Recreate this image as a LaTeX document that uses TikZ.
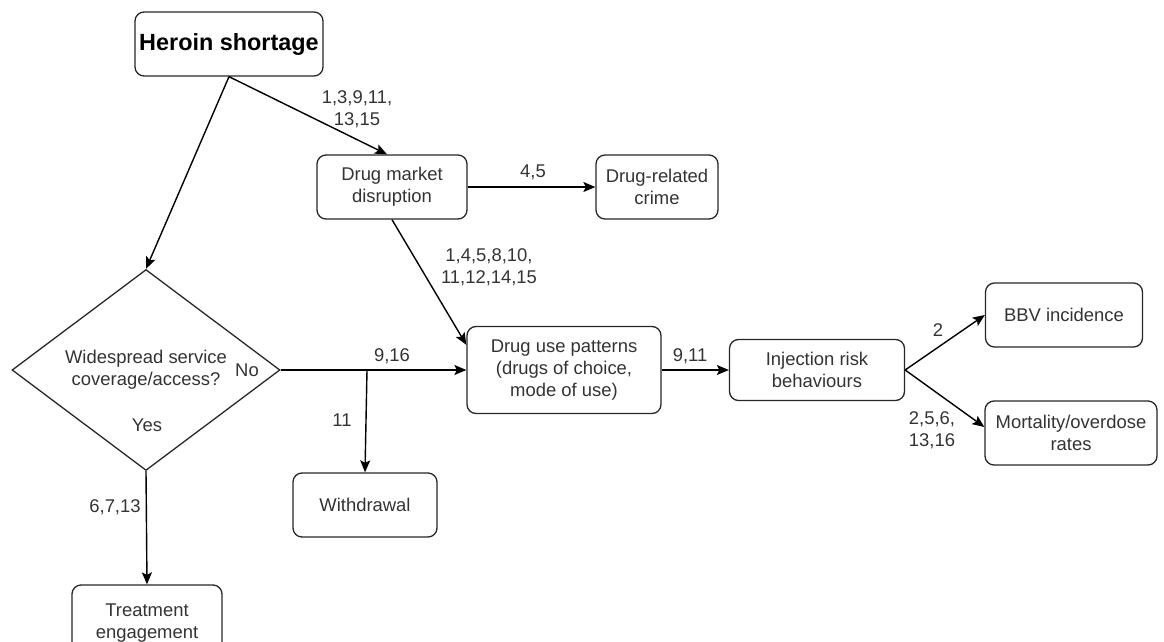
\documentclass[tikz,border=0pt]{standalone}
\usepackage{fontspec}
\setmainfont{Liberation Sans}
\usepackage{tikz}
\usetikzlibrary{arrows.meta,shapes.geometric}

\tikzset{
  box/.style={draw=black!85,line width=1.3bp,rounded corners=9bp,align=center,
    text=black!80,inner sep=0pt,font=\fontsize{18.5}{22}\selectfont},
  decision/.style={draw=black!85,line width=1.3bp,diamond,align=center,inner sep=0pt,
    text=black!80,font=\fontsize{18.5}{22}\selectfont},
  lbl/.style={align=center,inner sep=0pt,text=black!80,font=\fontsize{18.5}{22}\selectfont},
  arr/.style={-{Stealth[length=12bp,width=10bp,inset=2.5bp]},line width=1.4bp,black}
}

\begin{document}
\begin{tikzpicture}
\useasboundingbox (0bp,0bp) rectangle (1164bp,-642bp);

\node (heroin) at (229bp,-44bp)[box,minimum width=188bp,minimum height=64bp,font=\fontsize{23.5}{28}\selectfont\bfseries,text=black] {Heroin shortage};
\node (market) at (392bp,-187bp)[box,minimum width=150bp,minimum height=64bp] {Drug market\\disruption};
\node (crime) at (657bp,-187bp)[box,minimum width=122bp,minimum height=64bp] {Drug-related\\crime};
\node (access) at (146bp,-370bp)[decision,minimum width=268bp,minimum height=172bp] {Widespread service\\coverage/access?};
\node (use) at (564bp,-370bp)[box,minimum width=194bp,minimum height=87bp] {Drug use patterns\\(drugs of choice,\\mode of use)};
\node (inject) at (817bp,-370bp)[box,minimum width=175bp,minimum height=61bp] {Injection risk\\behaviours};
\node (bbv) at (1064bp,-315bp)[box,minimum width=157bp,minimum height=64bp] {BBV incidence};
\node (mort) at (1071bp,-433bp)[box,minimum width=172bp,minimum height=64bp] {Mortality/overdose\\rates};
\node (withdraw) at (365bp,-505bp)[box,minimum width=144bp,minimum height=64bp] {Withdrawal};
\node (treat) at (147bp,-623bp)[box,minimum width=150bp,minimum height=76bp] {Treatment\\engagement};

\node (no) at (247bp,-370bp)[lbl] {No};
\node (yes) at (147bp,-425bp)[lbl] {Yes};
\coordinate (split) at (367bp,-370bp);

\draw [arr] (heroin.south) -- ([xshift=-5bp]market.north);
\draw [arr] (heroin.south) -- (access.north);
\draw [arr] (market.east) -- (crime.west);
\draw [arr] (market.south) -- ([yshift=-19bp]use.north west);
\draw [arr] (access.east) -- (use.west);
\draw [arr] (split) -- (withdraw.north);
\draw [arr] (access.south) -- (treat.north);
\draw [arr] (use.east) -- (inject.west);
\draw [arr] (inject.east) -- (bbv.west);
\draw [arr] (inject.east) -- ([yshift=6bp]mort.west);

% edge labels
\node (l1) at (357bp,-109bp)[lbl] {1,3,9,11,\\13,15};
\node (l2) at (533bp,-172bp)[lbl] {4,5};
\node (l3) at (489bp,-267bp)[lbl] {1,4,5,8,10,\\11,12,14,15};
\node (l4) at (392bp,-356bp)[lbl] {9,16};
\node (l5) at (342bp,-420bp)[lbl] {11};
\node (l6) at (115bp,-507bp)[lbl] {6,7,13};
\node (l7) at (690bp,-356bp)[lbl] {9,11};
\node (l8) at (938bp,-330bp)[lbl] {2};
\node (l9) at (932bp,-430bp)[lbl] {2,5,6,\\13,16};
\end{tikzpicture}
\end{document}
